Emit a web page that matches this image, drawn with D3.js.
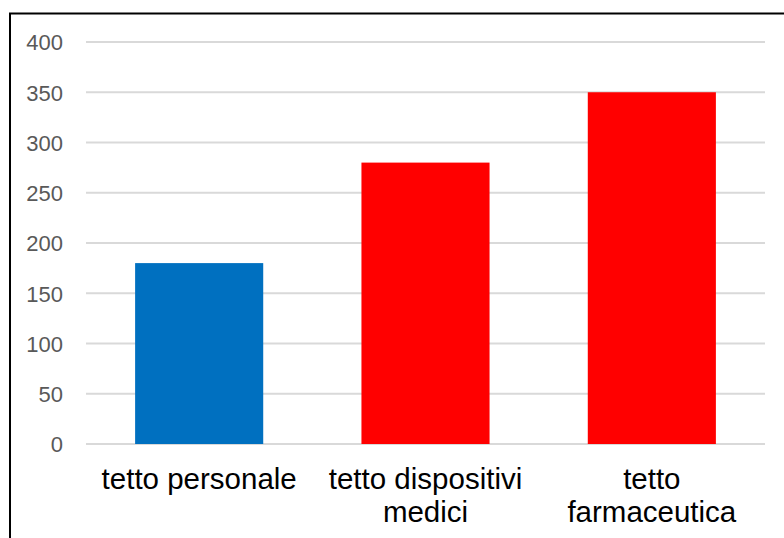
<!doctype html>
<html lang="it">
<head>
 <meta charset="utf-8">
 <title>Tetti di spesa</title>
 <style>
 body{margin:0;background:#fff;}
 svg{display:block;}
 </style>
 <script src="https://cdnjs.cloudflare.com/ajax/libs/d3/7.8.5/d3.min.js"></script>
</head>
<body>
 <svg width="784" height="538"></svg>
 <script>

 const categories=["tetto personale","tetto dispositivi medici","tetto farmaceutica"];
 const values=[180,280,350];
 const barColors=["#0070C0","#FF0000","#FF0000"];
 const yTicks=[0,50,100,150,200,250,300,350,400];

 const svg=d3.select("svg");

 // plot area
 const plot={left:86,right:765,top:42,bottom:444};

 // frame (runs off the right and bottom edge like the original)
 svg.append("rect")
 .attr("x",10)
 .attr("y",13.5)
 .attr("width",900)
 .attr("height",700)
 .attr("fill","none")
 .attr("stroke","#000")
 .attr("stroke-width",2);

 const xScale=d3.scaleBand()
 .domain(categories)
 .range([plot.left,plot.right])
 .paddingInner(0.434)
 .paddingOuter(0.217);

 const yScale=d3.scaleLinear()
 .domain([0,400])
 .range([plot.bottom,plot.top]);

 // gridlines
 svg.append("g")
 .attr("class","grid")
 .selectAll("line")
 .data(yTicks)
 .enter()
 .append("line")
 .attr("x1",plot.left)
 .attr("x2",plot.right)
 .attr("y1",d=>yScale(d))
 .attr("y2",d=>yScale(d))
 .attr("stroke","#d9d9d9")
 .attr("stroke-width",2);

 // y axis labels
 const yAxis=d3.axisLeft(yScale).tickValues(yTicks).tickSize(0).tickPadding(0);
 const yG=svg.append("g")
 .attr("class","yAxis")
 .attr("transform",`translate(63,0)`)
 .call(yAxis);
 yG.select(".domain").remove();
 yG.selectAll("text")
 .style("font-family","'Liberation Sans', Arial, sans-serif")
 .style("font-size","22px")
 .attr("fill","#595959")
 .attr("dy","0.36em");

 // bars
 svg.append("g")
 .attr("class","bars")
 .selectAll("rect")
 .data(values)
 .enter()
 .append("rect")
 .attr("x",(d,i)=>xScale(categories[i]))
 .attr("y",d=>yScale(d))
 .attr("width",xScale.bandwidth())
 .attr("height",d=>yScale(0)-yScale(d))
 .attr("fill",(d,i)=>barColors[i]);

 // x axis labels
 const xAxis=d3.axisBottom(xScale).tickSize(0).tickPadding(0);
 const xG=svg.append("g")
 .attr("class","xAxis")
 .attr("transform",`translate(0,${plot.bottom})`)
 .call(xAxis);
 xG.select(".domain").remove();
 xG.selectAll("text")
 .style("font-family","'Liberation Sans', Arial, sans-serif")
 .style("font-size","29.5px")
 .attr("fill","#000")
 .call(wrap,208);

 function wrap(text,width){
 text.each(function(){
 const t=d3.select(this);
 const words=t.text().split(/\s+/);
 t.text(null).attr("y",null).attr("dy",null);
 let line=[];
 let lineNo=0;
 let tspan=t.append("tspan").attr("x",0).attr("y",45);
 words.forEach(w=>{
 line.push(w);
 tspan.text(line.join(" "));
 if(tspan.node().getComputedTextLength()>width && line.length>1){
 line.pop();
 tspan.text(line.join(" "));
 line=[w];
 lineNo++;
 tspan=t.append("tspan").attr("x",0).attr("y",45+lineNo*33).text(w);
 }
 });
 });
 }

 </script>
</body>
</html>
